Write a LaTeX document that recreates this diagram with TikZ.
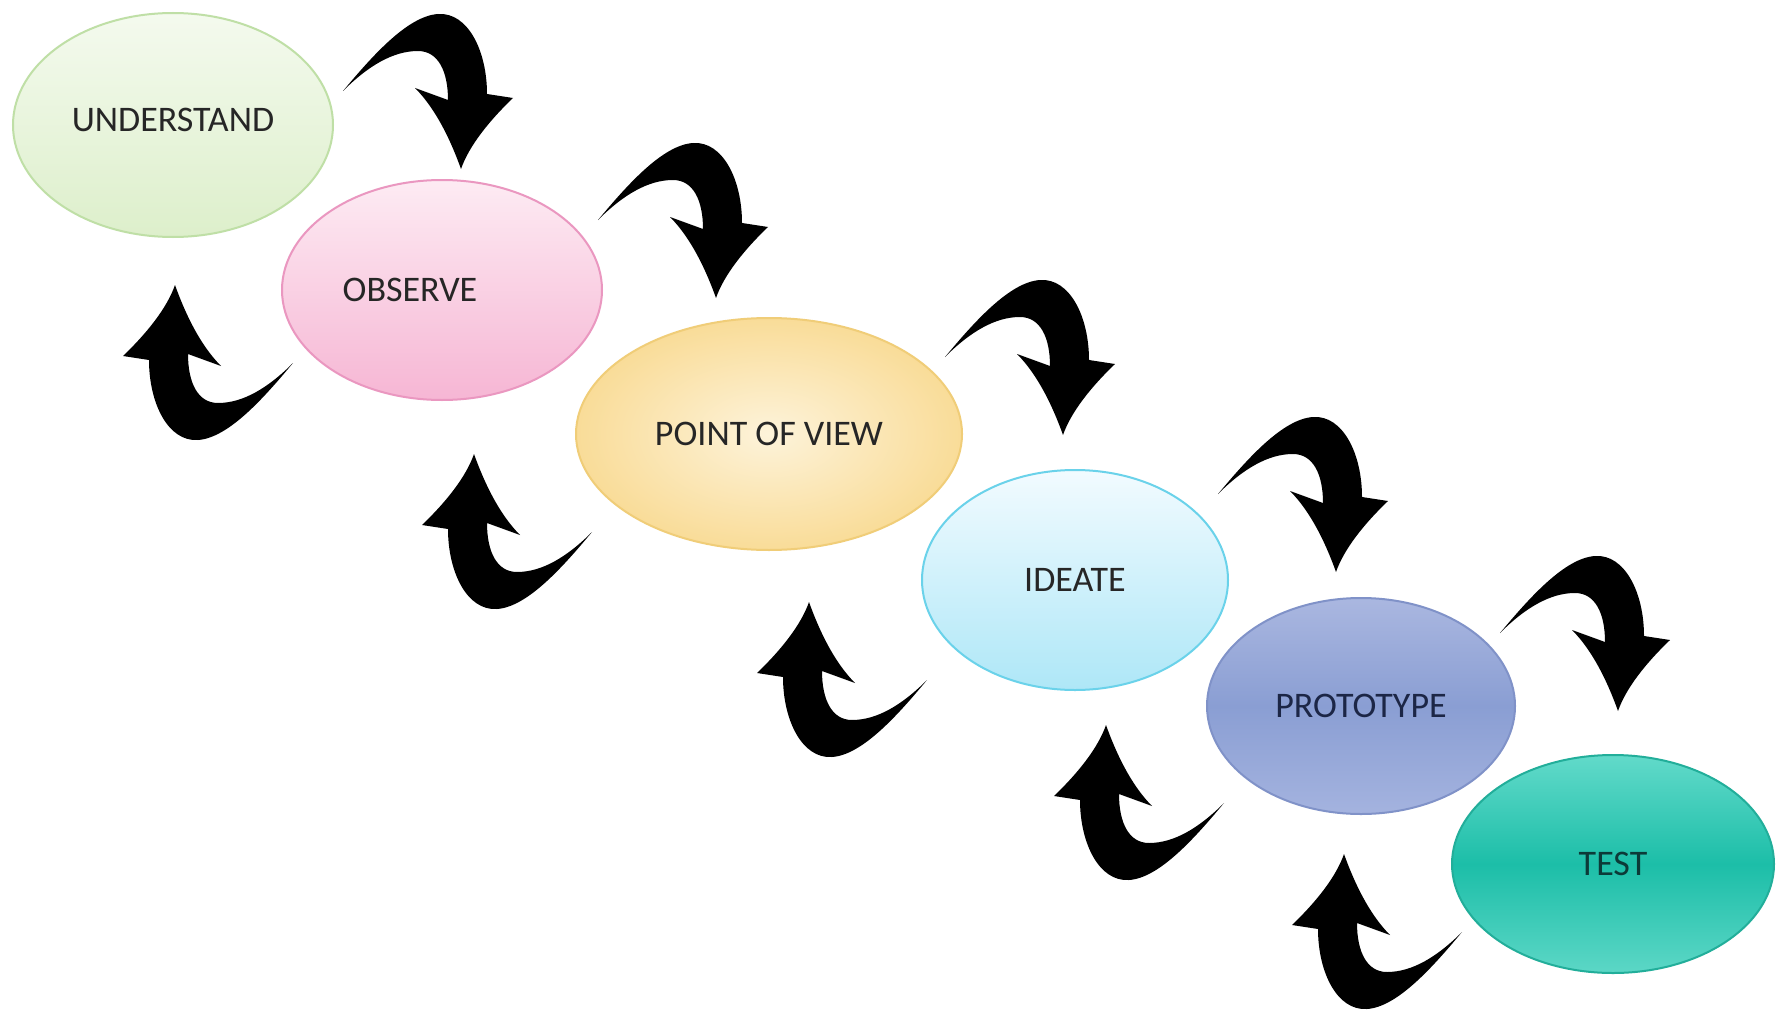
\documentclass[tikz,border=0pt]{standalone}
\usepackage{fontspec}
\setmainfont{Carlito}
\usetikzlibrary{shapes.geometric}
\definecolor{ugreenT}{HTML}{F4FAEE}
\definecolor{ugreenB}{HTML}{DDEFCB}
\definecolor{ugreenD}{HTML}{BFDFA6}
\definecolor{pinkT}{HTML}{FDEBF3}
\definecolor{pinkB}{HTML}{F6B6D4}
\definecolor{pinkD}{HTML}{EA97C0}
\definecolor{yelI}{HTML}{FDF3DA}
\definecolor{yelO}{HTML}{F9DC98}
\definecolor{yelD}{HTML}{F0CD78}
\definecolor{cyanT}{HTML}{F2FBFF}
\definecolor{cyanB}{HTML}{AEE7F7}
\definecolor{cyanD}{HTML}{6AD2EA}
\definecolor{blueT}{HTML}{AAB7E0}
\definecolor{blueM}{HTML}{8A9ED3}
\definecolor{blueB}{HTML}{A4B3DF}
\definecolor{blueD}{HTML}{8092C8}
\definecolor{tealT}{HTML}{62DACA}
\definecolor{tealM}{HTML}{1CBEA8}
\definecolor{tealB}{HTML}{5CD7C6}
\definecolor{tealD}{HTML}{22AE9A}
\begin{document}
\begin{tikzpicture}[x=1pt,y=-1pt]
\tikzset{
  stage/.style={ellipse, inner sep=0pt, line width=2pt,
    font=\fontsize{36}{40}\selectfont},
  swoop/.pic={
    \fill[black] (0,0)
      .. controls (30,-36) and (65,-75) .. (95,-77)
      .. controls (125,-79) and (144,-40) .. (144,3)
      -- (170,7)
      .. controls (146,30) and (126,55) .. (118,78)
      .. controls (108,50) and (93,18) .. (72,-3)
      -- (105,9)
      .. controls (105,-20) and (95,-40) .. (75,-40)
      .. controls (50,-40) and (25,-25) .. (0,0) -- cycle;
  }
}
\useasboundingbox (0,0) rectangle (1785,1014);
\fill[white] (0,0) rectangle (1785,1014);

% stages
\node[stage, minimum width=320pt, minimum height=224pt, draw=ugreenD,
  top color=ugreenT, bottom color=ugreenB] (und) at (173,125) {};
\node[font=\fontsize{36}{40}\selectfont, text=black!85] (undt) at ([yshift=5pt]und.center) {UNDERSTAND};

\node[stage, minimum width=320pt, minimum height=220pt, draw=pinkD,
  top color=pinkT, bottom color=pinkB] (obs) at (442,290) {};
\node[font=\fontsize{36}{40}\selectfont, text=black!85] (obst) at ([xshift=-32pt]obs.center) {OBSERVE};

\node[stage, minimum width=386pt, minimum height=232pt, draw=yelD,
  inner color=yelI, outer color=yelO, text=black!85] (pov) at (769,434) {POINT OF VIEW};

\node[stage, minimum width=306pt, minimum height=220pt, draw=cyanD,
  top color=cyanT, bottom color=cyanB, text=black!85] (ide) at (1075,580) {IDEATE};

\node[stage, minimum width=308pt, minimum height=216pt, draw=blueD,
  top color=blueT, bottom color=blueB, middle color=blueM, text={rgb,255:red,28;green,38;blue,70}] (pro) at (1361,706) {PROTOTYPE};

\node[stage, minimum width=322pt, minimum height=218pt, draw=tealD,
  top color=tealT, bottom color=tealB, middle color=tealM, text={rgb,255:red,12;green,58;blue,56}] (tst) at (1613,864) {TEST};

% forward swoops
\pic at (343,91) {swoop};
\pic at (598,220) {swoop};
\pic at (945,357) {swoop};
\pic at (1218,494) {swoop};
\pic at (1500,633) {swoop};

% backward swoops
\pic[rotate=180] at (293,363) {swoop};
\pic[rotate=180] at (592,532) {swoop};
\pic[rotate=180] at (927,680) {swoop};
\pic[rotate=180] at (1224,803) {swoop};
\pic[rotate=180] at (1462,932) {swoop};
\end{tikzpicture}
\end{document}
